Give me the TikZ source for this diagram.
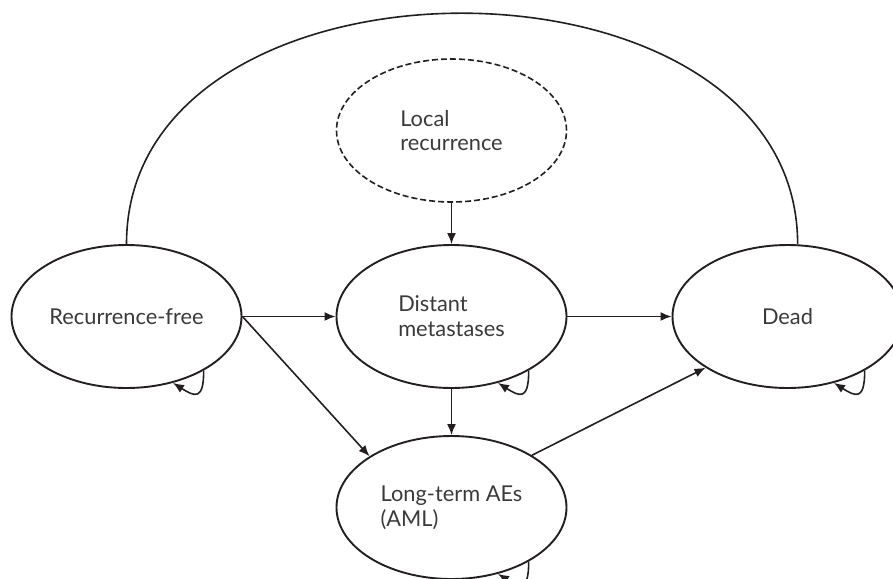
\documentclass[tikz,border=0pt]{standalone}
\usepackage{fontspec}
\setmainfont{Lato}
\usetikzlibrary{shapes.geometric,arrows.meta}
\definecolor{inkgray}{HTML}{231F20}
\definecolor{textgray}{HTML}{3A3A3A}
\tikzset{
  hstate/.style={ellipse,draw=inkgray,line width=0.95pt,
    minimum width=115pt,minimum height=71.5pt,inner sep=0pt,
    align=left,text=textgray,font=\fontsize{10.9}{12.4}\selectfont},
  tunnel/.style={hstate,dash pattern=on 3pt off 1.5pt,line width=0.8pt},
  trans/.style={draw=inkgray,line width=0.8pt,-{Latex[length=5.5pt,width=4.5pt]}},
  plainline/.style={draw=inkgray,line width=0.8pt}
}
\begin{document}
\begin{tikzpicture}[x=0.5pt,y=-0.5pt]
\useasboundingbox (0,0) rectangle (893,578);
\clip (0,0) rectangle (893,578);
% health states
\node[hstate] (rf)   at (126.5,316.5) {Recurrence-free};
\node[hstate] (dm)   at (451.5,316.5) {Distant\\metastases};
\node[hstate] (dead) at (787.5,316.5) {Dead};
\node[tunnel] (lr)   at (451.5,130.5) {Local\\recurrence};
\node[hstate] (lt)   at (451.5,507.5) {Long-term AEs\\(AML)};
% transitions
\draw[trans] (lr) -- (dm);
\draw[trans] (rf) -- (dm);
\draw[trans] (dm) -- (dead);
\draw[trans] (dm) -- (lt);
\draw[trans] (rf.east) -- (lt.148);
\draw[trans] (lt.33) -- (dead.212);
\draw[plainline] (rf.north) .. controls +(0,-308) and +(0,-308) .. (dead.82);
% stay in state
\draw[trans] (rf.-35) .. controls +(0,30) and +(22,14) .. (rf.-55);
\draw[trans] (dm.-35) .. controls +(0,30) and +(22,14) .. (dm.-55);
\draw[trans] (dead.-35) .. controls +(0,30) and +(22,14) .. (dead.-55);
\draw[trans] (lt.-35) .. controls +(0,30) and +(22,14) .. (lt.-55);
\end{tikzpicture}
\end{document}
